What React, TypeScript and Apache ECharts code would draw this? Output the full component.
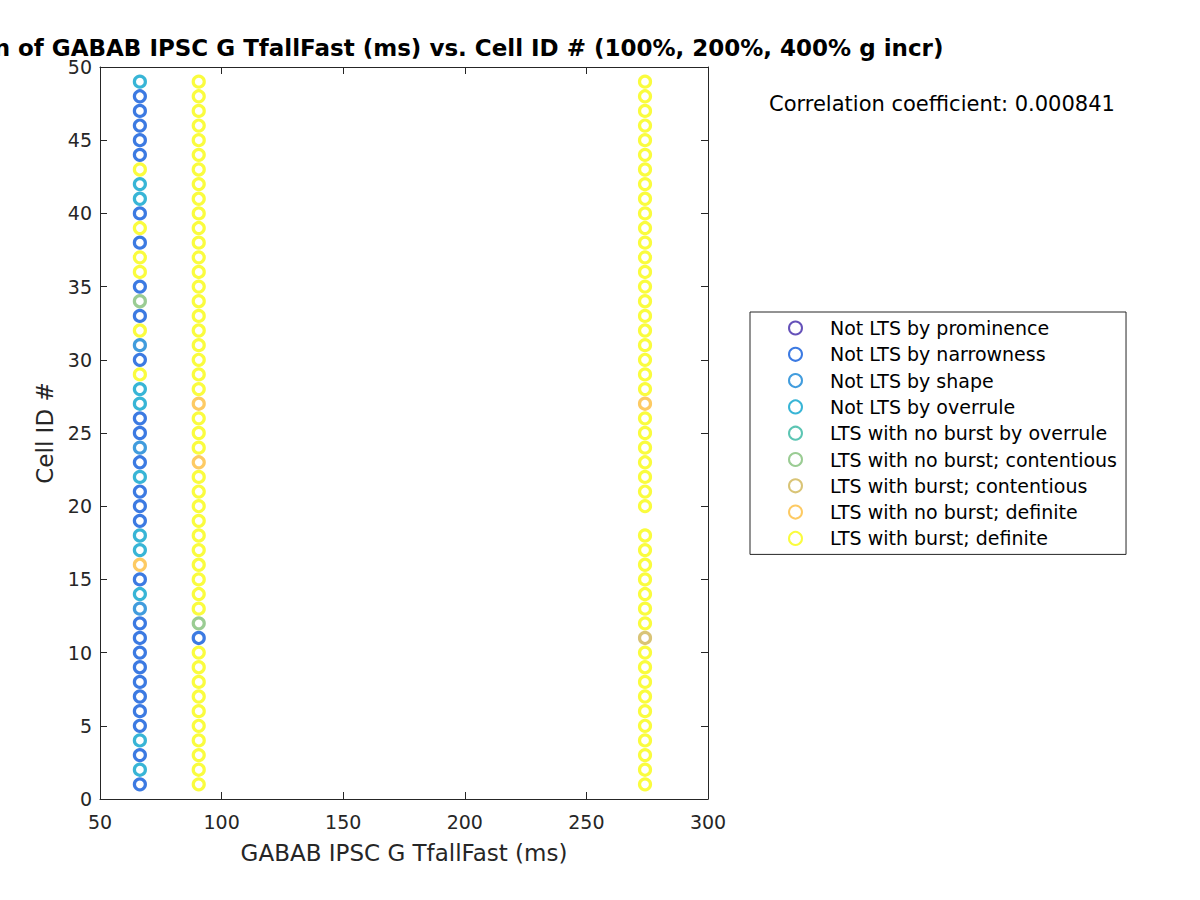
import React, { useEffect, useRef } from "react";
import * as echarts from "echarts";

// Category names (legend order) and colours
const categoryNames = [
  "Not LTS by prominence",
  "Not LTS by narrowness",
  "Not LTS by shape",
  "Not LTS by overrule",
  "LTS with no burst by overrule",
  "LTS with no burst; contentious",
  "LTS with burst; contentious",
  "LTS with no burst; definite",
  "LTS with burst; definite",
];
const categoryColors = [
  "#3e26a8",
  "#0b59db",
  "#1283d4",
  "#06a2cc",
  "#33b7a0",
  "#81bf78",
  "#d0b554",
  "#fdbd3c",
  "#f9fb0e",
];

// x positions (GABAB IPSC G TfallFast, ms) of the three columns
const columnX = [66.4, 90.6, 274.1];

// Cell IDs
const cellIds = [
  1, 2, 3, 4, 5, 6, 7, 8, 9, 10, 11, 12, 13, 14, 15, 16, 17, 18, 19, 20, 21, 22, 23, 24, 25,
  26, 27, 28, 29, 30, 31, 32, 33, 34, 35, 36, 37, 38, 39, 40, 41, 42, 43, 44, 45, 46, 47, 48, 49,
];

// Category index of each cell in each column (null = no point)
const col1Cats: (number | null)[] = [
  1, 3, 1, 3, 1, 1, 1, 1, 1, 1, 1, 1, 2, 3, 1, 7, 3, 3, 1, 1, 1, 3, 1, 2, 1,
  1, 3, 3, 8, 1, 2, 8, 1, 5, 1, 8, 8, 1, 8, 1, 3, 3, 8, 1, 1, 1, 1, 1, 3,
];
const col2Cats: (number | null)[] = [
  8, 8, 8, 8, 8, 8, 8, 8, 8, 8, 1, 5, 8, 8, 8, 8, 8, 8, 8, 8, 8, 8, 7, 8, 8,
  8, 7, 8, 8, 8, 8, 8, 8, 8, 8, 8, 8, 8, 8, 8, 8, 8, 8, 8, 8, 8, 8, 8, 8,
];
const col3Cats: (number | null)[] = [
  8, 8, 8, 8, 8, 8, 8, 8, 8, 8, 6, 8, 8, 8, 8, 8, 8, 8, null, 8, 8, 8, 8, 8, 8,
  8, 7, 8, 8, 8, 8, 8, 8, 8, 8, 8, 8, 8, 8, 8, 8, 8, 8, 8, 8, 8, 8, 8, 8,
];

const titleText =
  "Correlation of GABAB IPSC G TfallFast (ms) vs. Cell ID # (100%, 200%, 400% g incr)";
const corrText = "Correlation coefficient: 0.000841";

const FONT = "DejaVu Sans";
const AX = "#262626";

export default function App() {
  const ref = useRef<HTMLDivElement>(null);
  useEffect(() => {
    if (!ref.current) return;
    const chart = echarts.init(ref.current, undefined, { renderer: "svg" });
    const columns = [col1Cats, col2Cats, col3Cats];
    const seriesData: number[][][] = categoryNames.map(() => []);
    columns.forEach((cats, ci) => {
      cats.forEach((c, i) => {
        if (c !== null) seriesData[c].push([columnX[ci], cellIds[i]]);
      });
    });
    const grid = { left: 100, top: 67, width: 608, height: 732 };
    const axisCommon = {
      axisLine: { show: true, onZero: false, lineStyle: { color: AX, width: 1 } },
      axisTick: { show: true, inside: true, length: 7, lineStyle: { color: AX } },
      splitLine: { show: false },
    };
    chart.setOption({
      animation: false,
      backgroundColor: "#ffffff",
      grid,
      xAxis: [
        {
          type: "value",
          min: 50,
          max: 300,
          interval: 50,
          position: "bottom",
          name: "GABAB IPSC G TfallFast (ms)",
          nameLocation: "middle",
          nameGap: 42,
          nameTextStyle: { fontFamily: FONT, fontSize: 23, color: AX },
          axisLabel: { fontFamily: FONT, fontSize: 19, color: AX, margin: 13 },
          ...axisCommon,
        },
        {
          type: "value",
          min: 50,
          max: 300,
          interval: 50,
          position: "top",
          axisLabel: { show: false },
          ...axisCommon,
        },
      ],
      yAxis: [
        {
          type: "value",
          min: 0,
          max: 50,
          interval: 5,
          position: "left",
          name: "Cell ID #",
          nameLocation: "middle",
          nameGap: 43,
          nameTextStyle: { fontFamily: FONT, fontSize: 23, color: AX },
          axisLabel: { fontFamily: FONT, fontSize: 19, color: AX, margin: 8 },
          ...axisCommon,
        },
        {
          type: "value",
          min: 0,
          max: 50,
          interval: 5,
          position: "right",
          axisLabel: { show: false },
          ...axisCommon,
        },
      ],
      legend: {
        orient: "vertical",
        left: 750,
        top: 312,
        padding: [6.5, 9, 6.5, 38],
        itemGap: 7.3,
        itemWidth: 13,
        itemHeight: 13,
        borderColor: AX,
        borderWidth: 1,
        backgroundColor: "#ffffff",
        itemStyle: { borderWidth: 2 },
        textStyle: {
          fontFamily: FONT,
          fontSize: 19,
          color: "#000000",
          lineHeight: 19,
          padding: [0, 0, 0, 23],
        },
        data: categoryNames,
      },
      graphic: [
        {
          type: "text",
          x: 404,
          y: 48,
          style: {
            text: titleText,
            fontFamily: FONT,
            fontSize: 23,
            fontWeight: "bold",
            fill: "#000000",
            textAlign: "center",
            textVerticalAlign: "middle",
          },
        },
        {
          type: "text",
          x: 769,
          y: 104,
          style: {
            text: corrText,
            fontFamily: FONT,
            fontSize: 21,
            fill: "#000000",
            textAlign: "left",
            textVerticalAlign: "middle",
          },
        },
      ],
      series: categoryNames.map((name, k) => ({
        name,
        type: "scatter",
        xAxisIndex: 0,
        yAxisIndex: 0,
        symbol: "circle",
        symbolSize: 11,
        data: seriesData[k],
        itemStyle: {
          color: "rgba(255,255,255,0)",
          borderColor: categoryColors[k],
          borderWidth: 3.2,
        },
        emphasis: { disabled: true },
      })),
    });
    return () => chart.dispose();
  }, []);
  return (
    <div
      ref={ref}
      style={{ position: "fixed", left: 0, top: 0, width: 1200, height: 900 }}
    />
  );
}
